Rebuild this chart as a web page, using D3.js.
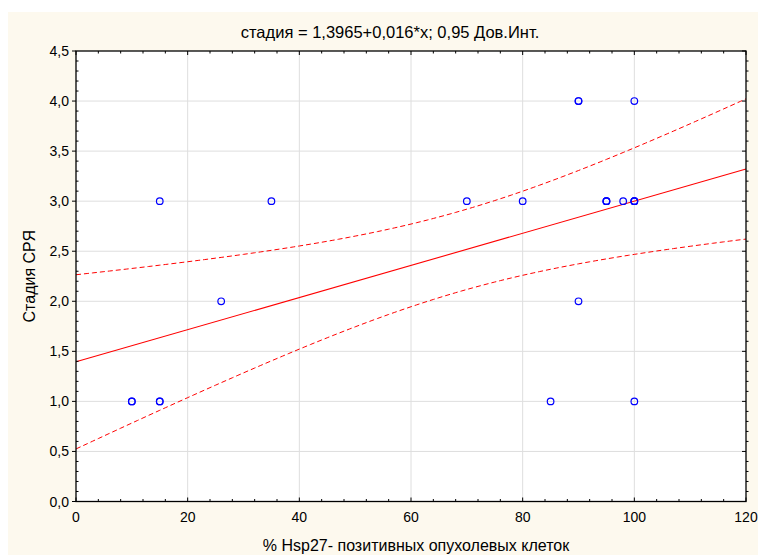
<!DOCTYPE html>
<html>
<head>
<meta charset="utf-8">
<script src="https://cdn.jsdelivr.net/npm/d3@7"></script>
<style>
  html, body { margin: 0; padding: 0; background: #fff; }
  svg { display: block; }
</style>
</head>
<body>
<svg id="chart"></svg>
<script>
// observations: % Hsp27-positive cells vs stage (repeated points overlap)
const hspPercent = [10, 10, 15, 15, 15, 26, 35, 70, 80, 85, 90, 90, 90, 95, 95, 95, 98, 100, 100, 100, 100, 100];
const stage = [1, 1, 1, 1, 3, 2, 3, 3, 3, 1, 4, 4, 2, 3, 3, 3, 3, 3, 3, 3, 4, 1];
const xTicks = [0, 20, 40, 60, 80, 100, 120];
const yTicks = [0, 0.5, 1, 1.5, 2, 2.5, 3, 3.5, 4, 4.5];
const titleText = "стадия = 1,3965+0,016*x; 0,95 Дов.Инт.";
const xLabel = "% Hsp27- позитивных опухолевых клеток";
const yLabel = "Стадия СРЯ";

const width = 758;
const height = 555;
const margin = { top: 51, right: 12, bottom: 53.5, left: 76 };
const font = "'Liberation Sans', Arial, sans-serif";

const $svg = d3.select("#chart").attr("width", width).attr("height", height);

// page background
$svg.append("rect").attr("width", width).attr("height", height).attr("fill", "#fff");
$svg.append("rect")
  .attr("x", 8).attr("y", 12)
  .attr("width", width - 8).attr("height", height - 12)
  .attr("fill", "#fdf9ee");

const x = d3.scaleLinear().domain([0, 120]).range([margin.left, width - margin.right]);
const y = d3.scaleLinear().domain([0, 4.5]).range([height - margin.bottom, margin.top]);
const [x0, x1] = x.range();
const [y0, y1] = y.range();

$svg.append("rect")
  .attr("x", x0).attr("y", y1)
  .attr("width", x1 - x0).attr("height", y0 - y1)
  .attr("fill", "#fff");

// grid
const $grid = $svg.append("g").attr("stroke", "#dedede").attr("stroke-width", 1);
$grid.selectAll(".gx").data(xTicks.slice(1, -1)).enter().append("line")
  .attr("x1", (d) => x(d)).attr("x2", (d) => x(d))
  .attr("y1", y1).attr("y2", y0);
$grid.selectAll(".gy").data(yTicks.slice(1, -1)).enter().append("line")
  .attr("x1", x0).attr("x2", x1)
  .attr("y1", (d) => y(d)).attr("y2", (d) => y(d));

// least squares fit + 95% confidence band for the mean
const n = hspPercent.length;
const xMean = d3.mean(hspPercent);
const yMean = d3.mean(stage);
const sxx = d3.sum(hspPercent, (v) => (v - xMean) ** 2);
const sxy = d3.sum(hspPercent, (v, i) => (v - xMean) * (stage[i] - yMean));
const slope = sxy / sxx;
const intercept = yMean - slope * xMean;
const sse = d3.sum(hspPercent, (v, i) => (stage[i] - intercept - slope * v) ** 2);
const s = Math.sqrt(sse / (n - 2));
const tQuantile = (df) => {
  const z = 1.959964;
  return z + (z ** 3 + z) / (4 * df) + (5 * z ** 5 + 16 * z ** 3 + 3 * z) / (96 * df * df);
};
const tCrit = tQuantile(n - 2);
const fit = (v) => intercept + slope * v;
const half = (v) => tCrit * s * Math.sqrt(1 / n + (v - xMean) ** 2 / sxx);
const grid = d3.range(0, 120.001, 1);

const $plot = $svg.append("g");
const line = d3.line().x((d) => x(d[0])).y((d) => y(d[1]));
$plot.append("path")
  .attr("d", line(grid.map((v) => [v, fit(v) + half(v)])))
  .attr("fill", "none").attr("stroke", "#ff0000").attr("stroke-width", 1)
  .attr("stroke-dasharray", "5,3");
$plot.append("path")
  .attr("d", line(grid.map((v) => [v, fit(v) - half(v)])))
  .attr("fill", "none").attr("stroke", "#ff0000").attr("stroke-width", 1)
  .attr("stroke-dasharray", "5,3");
$plot.append("path")
  .attr("d", line([[0, fit(0)], [120, fit(120)]]))
  .attr("fill", "none").attr("stroke", "#ff0000").attr("stroke-width", 1.1);

// points
$plot.selectAll("circle").data(hspPercent).enter().append("circle")
  .attr("cx", (d) => x(d))
  .attr("cy", (d, i) => y(stage[i]))
  .attr("r", 3.3)
  .attr("fill", "none")
  .attr("stroke", "#0000ff")
  .attr("stroke-width", 1.2);

// frame + ticks
const $axes = $svg.append("g").attr("stroke", "#000").attr("stroke-width", 1);
$axes.append("rect")
  .attr("x", x0).attr("y", y1)
  .attr("width", x1 - x0).attr("height", y0 - y1)
  .attr("fill", "none").attr("stroke-width", 1.3);

const xMinor = d3.range(0, 120.001, 4).filter((v) => v % 20 !== 0);
const yMinor = d3.range(0, 45.001, 1).map((v) => v / 10).filter((v) => Math.round(v * 10) % 5 !== 0);

const tick = (data, attrs) => {
  $axes.selectAll(null).data(data).enter().append("line")
    .attr("x1", attrs.x1).attr("x2", attrs.x2)
    .attr("y1", attrs.y1).attr("y2", attrs.y2);
};
// bottom / top: pointing inwards
tick(xTicks, { x1: (d) => x(d), x2: (d) => x(d), y1: y0, y2: y0 - 4 });
tick(xMinor, { x1: (d) => x(d), x2: (d) => x(d), y1: y0, y2: y0 - 2.5 });
tick(xTicks, { x1: (d) => x(d), x2: (d) => x(d), y1: y1, y2: y1 + 4 });
tick(xMinor, { x1: (d) => x(d), x2: (d) => x(d), y1: y1, y2: y1 + 2.5 });
// left: major out, minor in; right: major in, minor out
tick(yTicks, { x1: x0, x2: x0 - 4, y1: (d) => y(d), y2: (d) => y(d) });
tick(yMinor, { x1: x0, x2: x0 + 2.5, y1: (d) => y(d), y2: (d) => y(d) });
tick(yTicks, { x1: x1, x2: x1 - 4, y1: (d) => y(d), y2: (d) => y(d) });
tick(yMinor, { x1: x1, x2: x1 + 2.5, y1: (d) => y(d), y2: (d) => y(d) });

// labels
const fmtY = (d) => d3.format(".1f")(d).replace(".", ",");
const $labels = $svg.append("g")
  .style("font-family", font).attr("fill", "#000");
$labels.selectAll(".yl").data(yTicks).enter().append("text")
  .attr("x", x0 - 7).attr("y", (d) => y(d) + 5)
  .attr("text-anchor", "end")
  .style("font-size", "14px")
  .text(fmtY);
$labels.selectAll(".xl").data(xTicks).enter().append("text")
  .attr("x", (d) => x(d)).attr("y", y0 + 20)
  .attr("text-anchor", "middle")
  .style("font-size", "14px")
  .text((d) => d);

$labels.append("text")
  .attr("x", 390).attr("y", 38)
  .attr("text-anchor", "middle")
  .style("font-size", "16.5px")
  .text(titleText);
$labels.append("text")
  .attr("x", 416).attr("y", 551)
  .attr("text-anchor", "middle")
  .style("font-size", "16px")
  .text(xLabel);
$labels.append("text")
  .attr("transform", `translate(35,${(y0 + y1) / 2}) rotate(-90)`)
  .attr("text-anchor", "middle")
  .style("font-size", "16px")
  .text(yLabel);
</script>
</body>
</html>
